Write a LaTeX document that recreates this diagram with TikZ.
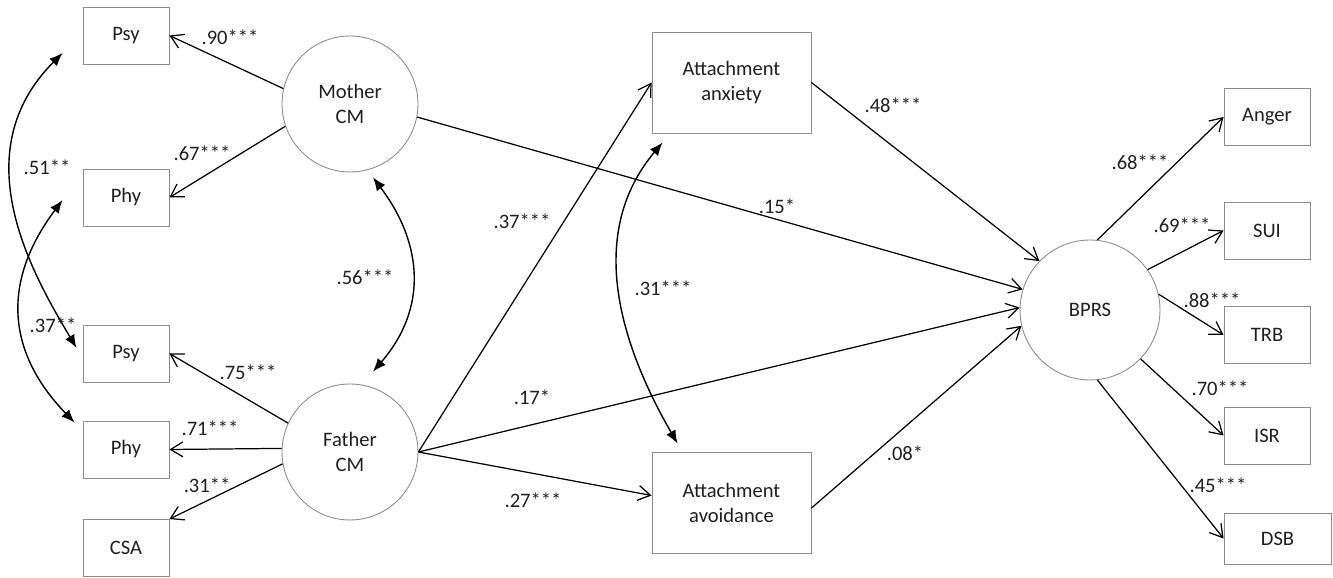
\documentclass[tikz,border=0pt]{standalone}
\usepackage{fontspec}
\setmainfont{Carlito}
\usetikzlibrary{arrows.meta,shapes}

\begin{document}
\begin{tikzpicture}[x=0.02cm,y=0.02cm,
	every node/.style={font=\fontsize{11.7}{14.2}\selectfont,text=black!88},
	obs/.style={draw=black!45,line width=0.5pt,minimum width=1.72cm,minimum height=1.14cm,inner sep=0pt},
	att/.style={obs,minimum width=3.18cm,minimum height=2.02cm,align=center},
	lat/.style={circle,draw=black!45,line width=0.5pt,minimum size=2.72cm,inner sep=0pt,align=center},
	lbl/.style={inner sep=0pt},
	reg/.style={->,>={Straight Barb[length=7pt,width=8.5pt]},line width=0.7pt},
	cov/.style={<->,>={Latex[length=7.5pt,width=6pt]},line width=0.8pt}]
	\useasboundingbox (0,0) rectangle (1333,578);
	% indicators
	\node[obs] (mpsy) at (126,542.5) {Psy};
	\node[obs] (mphy) at (126,380.5) {Phy};
	\node[obs] (fpsy) at (126,224.5) {Psy};
	\node[obs] (fphy) at (126,128.5) {Phy};
	\node[obs] (fcsa) at (126,30) {CSA};
	\node[obs] (anger) at (1267,461) {Anger};
	\node[obs] (sui) at (1267,347.5) {SUI};
	\node[obs] (trb) at (1267,243) {TRB};
	\node[obs] (isr) at (1267,142.5) {ISR};
	\node[obs,minimum width=2.14cm,minimum height=1.02cm] (dsb) at (1277.5,39.5) {DSB};
	% latent and mediators
	\node[lat] (mother) at (350,474) {Mother\\CM};
	\node[lat] (father) at (350,126) {Father\\CM};
	\node[lat,minimum size=2.8cm] (bprs) at (1090,268) {BPRS};
	\node[att] (anx) at (731.5,495.5) {Attachment\\anxiety};
	\node[att] (avo) at (731.5,75.5) {Attachment\\avoidance};
	%
	\path[reg]
	(mother.167) edge (mpsy.east)
	(mother.199) edge (mphy.east)
	(mother.349) edge (bprs.163)
	(father.155) edge (fpsy.east)
	(father.177) edge (fphy.east)
	(father.190) edge (fcsa.north east)
	(father.east) edge (anx.west)
	(father.east) edge (bprs.178)
	(father.east) edge (avo.175)
	(anx.east) edge (bprs.136)
	(avo.356) edge (bprs.193)
	(bprs.84) edge (anger.west)
	(bprs.35) edge (sui.west)
	(bprs.13) edge (trb.west)
	(bprs.316) edge (isr.west)
	(bprs.276) edge (dsb.west);
	%
	\draw[cov] ([shift={(-20,-17.5)}]mpsy.west) .. controls +(-99,-99) and +(-46,77) .. ([shift={(-6,5.5)}]fpsy.west);
	\draw[cov] ([shift={(-20,-2.5)}]mphy.west) .. controls +(-60,-80) and +(-69.5,72) .. ([shift={(-8,-2)}]fphy.north west);
	\draw[cov] ([shift={(23,-5)}]mother.south) to[out=307,in=49,looseness=1.1] ([shift={(23,12)}]father.north);
	\draw[cov] ([shift={(11,-9)}]anx.south west) to[out=230,in=120] ([shift={(26,8)}]avo.north west);
	% coefficients
	\node[lbl] (l90) at (230,541) {.90***};
	\node[lbl] (l67) at (202,425) {.67***};
	\node[lbl] (l51) at (47,411) {.51**};
	\node[lbl] (l56) at (365,301) {.56***};
	\node[lbl] (l37m) at (53,253) {.37**};
	\node[lbl] (l75) at (248,206) {.75***};
	\node[lbl] (l71) at (210,150) {.71***};
	\node[lbl] (l31f) at (207,93) {.31**};
	\node[lbl] (l37) at (522,357) {.37***};
	\node[lbl] (l15) at (777,372) {.15*};
	\node[lbl] (l31) at (663,290) {.31***};
	\node[lbl] (l17) at (532,181) {.17*};
	\node[lbl] (l27) at (533,78) {.27***};
	\node[lbl] (l48) at (893,473) {.48***};
	\node[lbl] (l08) at (905,125) {.08*};
	\node[lbl] (l68) at (1140,416) {.68***};
	\node[lbl] (l69) at (1182,353) {.69***};
	\node[lbl] (l88) at (1212,278) {.88***};
	\node[lbl] (l70) at (1220,190) {.70***};
	\node[lbl] (l45) at (1218,93) {.45***};
\end{tikzpicture}
\end{document}
